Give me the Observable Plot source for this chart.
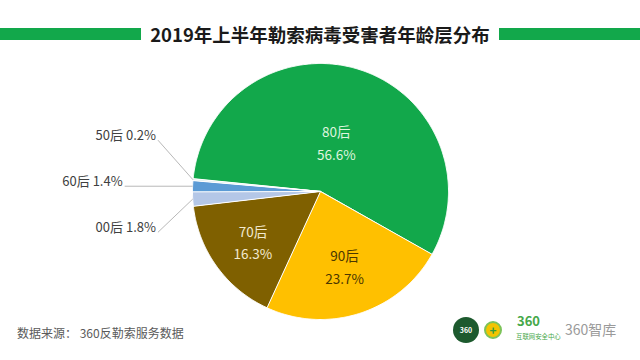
<!DOCTYPE html>
<html><head><meta charset="utf-8">
<script src="https://cdn.jsdelivr.net/npm/d3@7"></script>
<script src="https://cdn.jsdelivr.net/npm/@observablehq/plot@0.6"></script>
<style>
body{margin:0;background:#fff;font-family:"Noto Sans CJK SC","Noto Sans",sans-serif;}
#wrap{position:relative;width:640px;height:360px;overflow:hidden;background:#fff;}
#chart{position:absolute;left:0;top:0;}
.bar{position:absolute;top:28px;height:12px;background:#12a84b;}
#title{position:absolute;left:141px;width:358px;top:22px;line-height:24px;text-align:center;font-size:18.5px;font-weight:bold;color:#1a1a1a;white-space:nowrap;}
#source{position:absolute;left:17px;top:324px;line-height:18px;font-size:12px;color:#5a5a5a;white-space:nowrap;}
.logo1{position:absolute;left:453px;top:317px;width:26px;height:26px;border-radius:50%;background:#1d5a2e;color:#fff;font-size:7px;line-height:26px;text-align:center;font-weight:bold;}
.logo2{position:absolute;left:484px;top:321px;width:14px;height:14px;border-radius:50%;background:#f3c400;border:2px solid #7cc35a;color:#2f9c3e;font-size:12px;line-height:14px;text-align:center;font-weight:bold;}
.logo3{position:absolute;left:517px;top:314px;font-size:13px;line-height:14px;color:#46a84a;font-weight:bold;}
.logo4{position:absolute;left:516px;top:332px;font-size:6.4px;line-height:9px;color:#46a84a;white-space:nowrap;}
.logo5{position:absolute;left:565px;top:320px;font-size:14px;line-height:18px;color:#9a9a9a;white-space:nowrap;}
</style></head><body>
<div id="wrap">
  <div id="chart"></div>
  <div class="bar" style="left:0;width:141px"></div>
  <div class="bar" style="left:499px;width:141px"></div>
  <div id="title">2019年上半年勒索病毒受害者年龄层分布</div>
  <div id="source">数据来源： 360反勒索服务数据</div>
  <div class="logo1">360</div>
  <div class="logo2">+</div>
  <div class="logo3">360</div>
  <div class="logo4">互联网安全中心</div>
  <div class="logo5">360智库</div>
</div>
<script>
// ---- data ----
const labels = ["80后", "90后", "70后", "00后", "60后", "50后"];
const values = [56.6, 23.7, 16.3, 1.8, 1.4, 0.2];
const colors = ["#12a84b", "#ffc000", "#7f6000", "#b4c7e7", "#5b9bd5", "#dff0f0"];
const innerTextColors = {"80后": "#dff5df", "90后": "#4a3700", "70后": "#f3ead0"};

// ---- layout ----
const startDeg = -84.4;
const R = 128, cx = 320, cy = 191, W = 640, H = 360;
const rows = labels.map((label, i) => ({label, value: values[i]}));
const start = startDeg * Math.PI / 180;
const arcs = d3.pie().sort(null).value(d => d.value).startAngle(start).endAngle(start + 2 * Math.PI)(rows);

const poly = [];
for (const a of arcs) {
  poly.push({label: a.data.label, x: 0, y: 0});
  const n = Math.max(2, Math.ceil((a.endAngle - a.startAngle) / (Math.PI / 360)));
  for (let i = 0; i <= n; i++) {
    const t = a.startAngle + (a.endAngle - a.startAngle) * i / n;
    poly.push({label: a.data.label, x: Math.sin(t), y: Math.cos(t)});
  }
}
const mid = a => (a.startAngle + a.endAngle) / 2;

const inner = arcs.filter(a => a.data.value >= 5).map(a => {
  const r = 0.75 - 0.006 * a.data.value;
  return {label: a.data.label, value: a.data.value, x: r * Math.sin(mid(a)), y: r * Math.cos(mid(a))};
});
const small = arcs.filter(a => a.data.value < 5);
const midSmall = small[Math.floor(small.length / 2)];
const baseY = Math.cos(mid(midSmall));
const outer = small.map((a, k) => {
  const j = k - Math.floor(small.length / 2);
  return {
    label: a.data.label, value: a.data.value,
    lx: -1.27 - 0.26 * (1 - Math.abs(j)), ly: baseY + j * 0.36,
    ex: Math.sin(mid(a)), ey: Math.cos(mid(a))
  };
});

const font = '"Noto Sans CJK SC","Noto Sans",sans-serif';
const chart = Plot.plot({
  width: W, height: H, margin: 0,
  x: {domain: [-cx / R, (W - cx) / R], range: [0, W], axis: null},
  y: {domain: [-(H - cy) / R, cy / R], range: [H, 0], axis: null},
  color: {domain: labels, range: colors},
  marks: [
    Plot.line(poly, {x: "x", y: "y", z: "label", fill: "label", stroke: "white", strokeWidth: 1, curve: "linear-closed"}),
    Plot.link(outer, {x1: "lx", y1: "ly", x2: "ex", y2: "ey", stroke: "#a6a6a6", strokeWidth: 0.8}),
    Plot.text(outer, {x: "lx", y: "ly", text: d => `${d.label} ${d.value}%`, textAnchor: "end", dx: -2, dy: -4, fontSize: 13, fill: "#404040", fontFamily: font}),
    ...inner.map(d => Plot.text([d], {x: "x", y: "y", text: d => `${d.label}\n${d.value}%`, lineHeight: 1.65, fontSize: 13.5, fill: innerTextColors[d.label], fontFamily: font}))
  ]
});
document.getElementById("chart").appendChild(chart);
</script>
</body></html>
